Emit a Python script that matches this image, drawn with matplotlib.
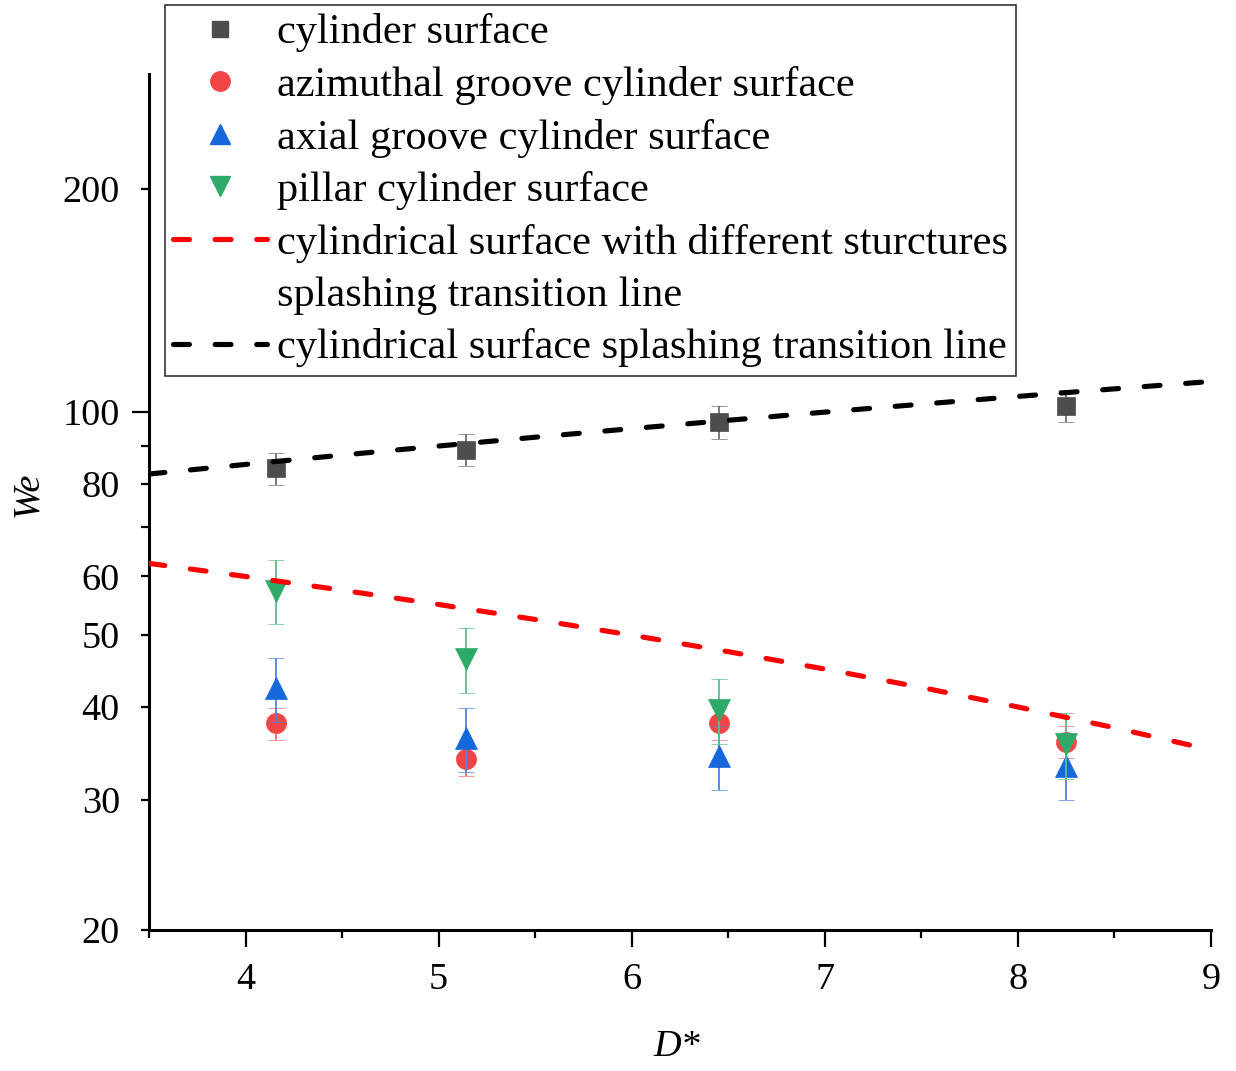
import matplotlib
matplotlib.use("Agg")
import matplotlib.pyplot as plt
from matplotlib.lines import Line2D
from matplotlib.ticker import FixedLocator, FixedFormatter

plt.rcParams['font.family'] = ['Liberation Serif', 'DejaVu Serif']

# Measured splashing thresholds (We) versus dimensionless diameter D*
d_star = [4.16, 5.14, 6.45, 8.25]

we_cylinder = [84.0, 89.0, 97.0, 102.0]
err_cylinder = [4.2, 4.5, 4.9, 5.1]

we_azimuthal = [38.0, 34.0, 38.0, 35.9]
err_azimuthal = [1.9, 1.7, 1.9, 1.8]

we_axial = [42.4, 36.3, 34.3, 33.3]
err_axial = [4.2, 3.6, 3.4, 3.3]

we_pillar = [57.4, 46.5, 39.6, 35.6]
err_pillar = [5.7, 4.7, 4.0, 3.6]

# Splashing transition lines
line_d = [3.5, 4.0, 4.5, 5.0, 5.5, 6.0, 6.5, 7.0, 7.5, 8.0, 8.5, 9.0]
line_structured = [62.5, 60.0, 57.5, 55.0, 52.5, 50.0, 47.5, 45.0, 42.5, 40.0, 37.5, 35.0]
line_plain = [82.5, 85.0, 87.5, 90.0, 92.5, 95.0, 97.5, 100.0, 102.5, 105.0, 107.5, 110.0]

labels = [
    "cylinder surface",
    "azimuthal groove cylinder surface",
    "axial groove cylinder surface",
    "pillar cylinder surface",
    "cylindrical surface with different sturctures",
    "splashing transition line",
    "cylindrical surface splashing transition line",
]

x_major = [4, 5, 6, 7, 8, 9]
x_minor = [3.5, 4.5, 5.5, 6.5, 7.5, 8.5]
y_major = [100]
y_minor = [20, 30, 40, 50, 60, 70, 80, 90, 200]
y_minor_labels = ["20", "30", "40", "50", "60", "", "80", "", "200"]

W, H = 1236, 1071
fig = plt.figure(figsize=(W / 100, H / 100), dpi=100)
ax = fig.add_axes([149 / W, (H - 930) / H, (1211 - 149) / W, (930 - 74) / H])

series = [
    (we_cylinder, err_cylinder, 's', 12.8, '#4d4d4d', '#707070'),
    (we_azimuthal, err_azimuthal, 'o', 14.5, '#f24646', '#f26a6a'),
    (we_axial, err_axial, '^', 16, '#1767dc', '#4a86e0'),
    (we_pillar, err_pillar, 'v', 16, '#2eaa68', '#5cbf88'),
]
for i, (vals, errs, mk, ms, fc, ec) in enumerate(series):
    ax.errorbar(d_star, vals, yerr=errs, fmt=mk, ms=ms, mfc=fc, mec=fc, mew=0.5,
                ecolor=ec, elinewidth=1.3, capsize=6, capthick=1.3,
                zorder=3 + i)

dash = (3.1, 5.0)
lw_line = 3.7
ax.plot(line_d, line_structured, color='#ff0000', lw=lw_line, dashes=dash,
        dash_capstyle='round', zorder=10)
ax.plot(line_d, line_plain, color='#000000', lw=lw_line, dashes=dash,
        dash_capstyle='round', zorder=10)

ax.set_yscale('log')
ax.set_xlim(3.5, 9)
ax.set_ylim(20, 286)

for s in ['top', 'right']:
    ax.spines[s].set_visible(False)
for s in ['left', 'bottom']:
    ax.spines[s].set_linewidth(2.2)

ax.xaxis.set_major_locator(FixedLocator(x_major))
ax.xaxis.set_minor_locator(FixedLocator(x_minor))
ax.xaxis.set_major_formatter(FixedFormatter([str(v) for v in x_major]))
ax.yaxis.set_major_locator(FixedLocator(y_major))
ax.yaxis.set_major_formatter(FixedFormatter([str(v) for v in y_major]))
ax.yaxis.set_minor_locator(FixedLocator(y_minor))
ax.yaxis.set_minor_formatter(FixedFormatter(y_minor_labels))

tick_fs = 27.5
ax.tick_params(axis='x', which='major', direction='out', length=12.2, width=1.6,
               pad=11.5, labelsize=tick_fs)
ax.tick_params(axis='x', which='minor', direction='out', length=5.8, width=1.6)
ax.tick_params(axis='y', which='major', direction='out', length=12.2, width=1.6,
               pad=8.6, labelsize=tick_fs)
ax.tick_params(axis='y', which='minor', direction='out', length=5.8, width=1.6,
               pad=15.1, labelsize=tick_fs)

fig.text(28 / W, 1 - 494 / H, "We", style='italic', rotation=90,
         ha='center', va='center', fontsize=tick_fs)
fig.text(677 / W, 1 - 1047 / H, "D*", style='italic',
         ha='center', va='center', fontsize=tick_fs)

handles = [
    Line2D([], [], ls='none', marker='s', ms=12, color='#4d4d4d'),
    Line2D([], [], ls='none', marker='o', ms=14, color='#f24646'),
    Line2D([], [], ls='none', marker='^', ms=15, color='#1767dc'),
    Line2D([], [], ls='none', marker='v', ms=15, color='#2eaa68'),
    Line2D([], [], color='#ff0000', lw=lw_line, dashes=dash, dash_capstyle='round'),
    Line2D([], [], ls='none'),
    Line2D([], [], color='#000000', lw=lw_line, dashes=dash, dash_capstyle='round'),
]
leg = fig.legend(handles, labels, loc='upper left',
                 bbox_to_anchor=(165 / W, 1 - 5 / H), bbox_transform=fig.transFigure,
                 frameon=True, fancybox=False, framealpha=1, edgecolor='#333333',
                 fontsize=30.5, handlelength=2.2, handletextpad=0.24,
                 borderpad=0.2, labelspacing=0.32, borderaxespad=0)
leg.get_frame().set_linewidth(1.2)

fig.savefig("out.png", dpi=100, facecolor='white')
